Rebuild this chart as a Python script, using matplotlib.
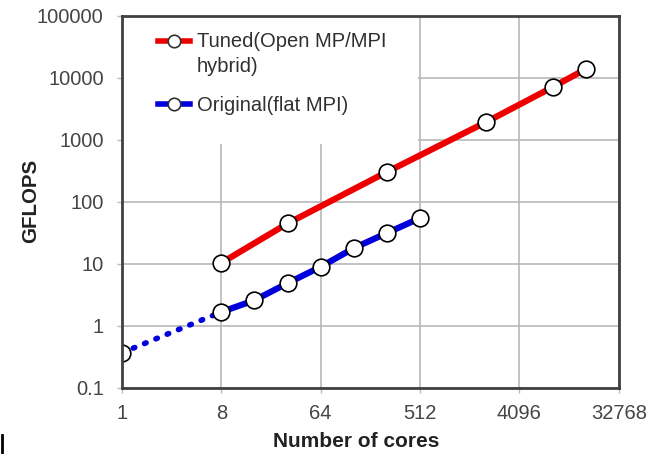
import matplotlib
matplotlib.use("Agg")
import matplotlib.pyplot as plt
from matplotlib.patches import Rectangle
from matplotlib.lines import Line2D
from matplotlib.legend_handler import HandlerLine2D

plt.rcParams['font.family'] = ['Liberation Sans', 'DejaVu Sans']

# Data
tuned_cores = [8, 32, 256, 2048, 8192, 16384]
tuned_gflops = [10.4, 45, 305, 1950, 7100, 13900]
orig_cores = [8, 16, 32, 64, 128, 256, 512]
orig_gflops = [1.68, 2.6, 4.9, 9.0, 18, 31.6, 55]
orig_start_cores = [1, 8]
orig_start_gflops = [0.37, 1.68]
x_ticks = [1, 8, 64, 512, 4096, 32768]
y_ticks = [0.1, 1, 10, 100, 1000, 10000, 100000]
y_tick_labels = ["0.1", "1", "10", "100", "1000", "10000", "100000"]
tuned_label = "Tuned(Open MP/MPI\nhybrid)"
orig_label = "Original(flat MPI)"


class ShiftedLineHandler(HandlerLine2D):
    """Draws the legend line shifted up so it lines up with the first text line."""
    def __init__(self, dy=0.0, **kw):
        super().__init__(**kw)
        self.dy = dy

    def create_artists(self, legend, orig_handle, xdescent, ydescent,
                       width, height, fontsize, trans):
        return super().create_artists(legend, orig_handle, xdescent,
                                      ydescent - 2 * self.dy, width, height,
                                      fontsize, trans)


fig = plt.figure(figsize=(6.52, 4.54), dpi=100)
ax = fig.add_axes([0.187, 0.1454, 0.762, 0.8194])
ax.set_xscale('log', base=2)
ax.set_yscale('log')
ax.set_xlim(1, 32768)
ax.set_ylim(0.1, 100000)

ax.set_xticks(x_ticks)
ax.set_xticklabels([str(v) for v in x_ticks])
ax.set_yticks(y_ticks)
ax.set_yticklabels(y_tick_labels)
ax.minorticks_off()
ax.tick_params(axis='both', labelsize=14.5, labelcolor='#454545', color='#bbbbbb',
               length=3.6, width=1, direction='out')
ax.tick_params(axis='y', pad=9.5)
ax.tick_params(axis='x', pad=8)
ax.grid(True, color='#b8b8b8', linewidth=1.2, zorder=0)
ax.set_axisbelow(True)
for side in ['left', 'bottom', 'top', 'right']:
    ax.spines[side].set_color('#404040')
    ax.spines[side].set_linewidth(2)
    ax.spines[side].set_zorder(5)

# white legend area covering gridlines
ax.add_patch(Rectangle((0, 0.655), 0.596, 0.345, transform=ax.transAxes,
                       facecolor='white', edgecolor='none', zorder=1))

mk = dict(marker='o', markersize=12, markerfacecolor='white',
          markeredgecolor='black', markeredgewidth=1.2)

ax.plot(orig_start_cores, orig_start_gflops, color='#0000dd', linewidth=4,
        linestyle=(0, (0.3, 1.9)), dash_capstyle='round', zorder=3)
ax.plot(orig_start_cores[:1], orig_start_gflops[:1], linestyle='none', zorder=4, **mk)
ax.plot(tuned_cores, tuned_gflops, color='#ee0000', linewidth=4.5, zorder=3, **mk)
ax.plot(orig_cores, orig_gflops, color='#0000dd', linewidth=4.5, zorder=3, **mk)

h_tuned = Line2D([], [], color='#ee0000', linewidth=4, marker='o', markersize=9,
                 markerfacecolor='white', markeredgecolor='#333333', markeredgewidth=1.2)
h_orig = Line2D([], [], color='#0000dd', linewidth=4, marker='o', markersize=9,
                markerfacecolor='white', markeredgecolor='#333333', markeredgewidth=1.2)
leg = ax.legend([h_tuned, h_orig], [tuned_label, orig_label], loc='upper left',
                bbox_to_anchor=(0.072, 0.957), frameon=False, fontsize=14.5,
                handlelength=1.6, handletextpad=0.35, labelspacing=1.0,
                borderaxespad=0, borderpad=0,
                handler_map={h_tuned: ShiftedLineHandler(dy=10.0)})
for t in leg.get_texts():
    t.set_color('#303030')
    t.set_linespacing(1.4)

ax.set_xlabel("Number of cores", fontsize=15, fontweight='bold', color='#222222')
ax.xaxis.set_label_coords(0.471, -0.118)
ax.set_ylabel("GFLOPS", fontsize=14.8, fontweight='bold', color='#222222')
ax.yaxis.set_label_coords(-0.165, 0.503)

# small artifact at bottom-left
fig.add_artist(Line2D([0.003, 0.003], [0.0, 0.042], transform=fig.transFigure,
                      color='black', linewidth=2))

fig.savefig("out.png", dpi=100)
